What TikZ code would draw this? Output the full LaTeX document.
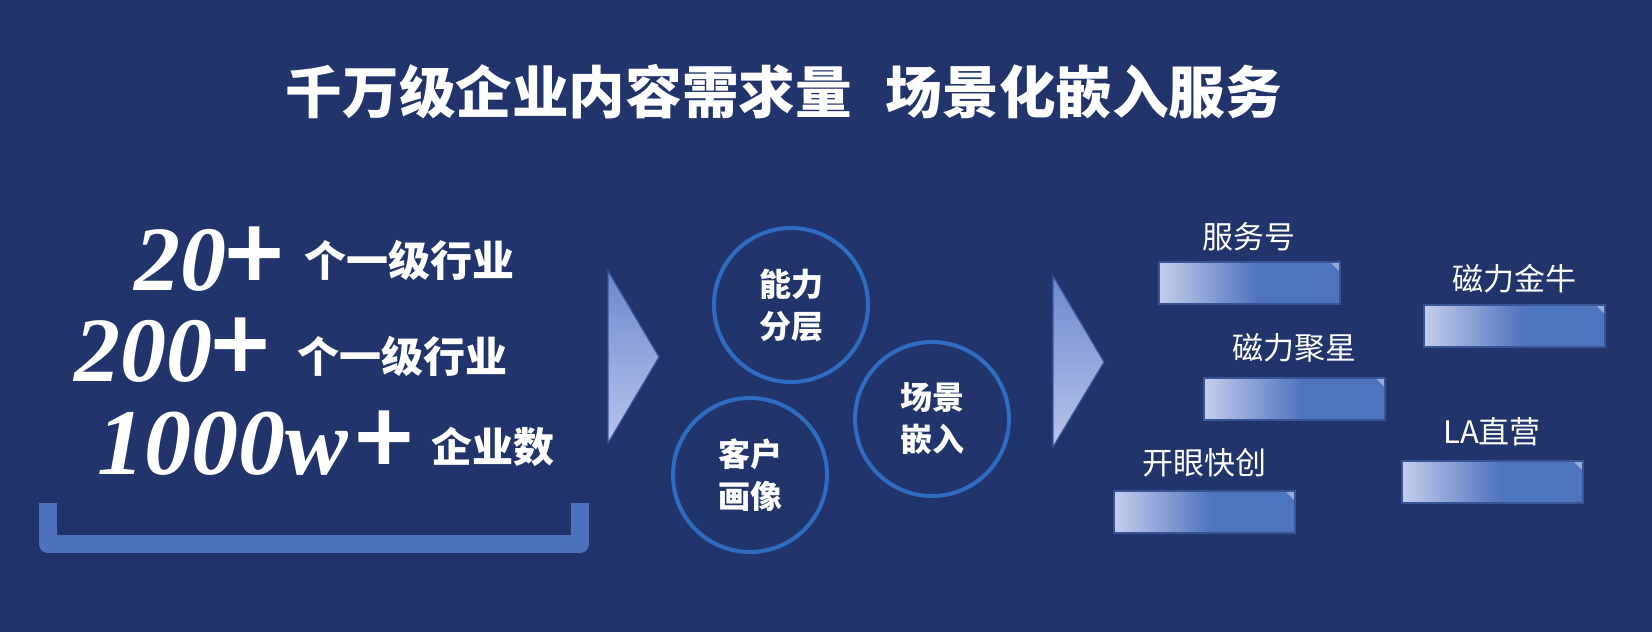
\documentclass[tikz,border=0pt]{standalone}
\usepackage{fontspec}
\setmainfont{Liberation Serif}
\newfontfamily\cjk{Noto Sans CJK SC}
\newfontfamily\plusfont{Noto Sans CJK SC}[FakeBold=3]
\definecolor{bg}{RGB}{33,53,108}
\definecolor{mblue}{RGB}{79,116,190}
\definecolor{pale}{RGB}{196,206,236}
\definecolor{ring}{RGB}{45,108,192}
\definecolor{brk}{RGB}{79,114,188}
\definecolor{boxedge}{RGB}{55,84,148}
\definecolor{triedge}{RGB}{60,88,156}
\definecolor{tritop}{RGB}{108,136,204}
\definecolor{tribot}{RGB}{184,198,236}
\pgfdeclarehorizontalshading{boxshade}{100bp}{color(0bp)=(pale); color(25bp)=(pale); color(52bp)=(mblue); color(75bp)=(mblue); color(100bp)=(mblue)}
\tikzset{
  title/.style={text=white, inner sep=0pt, font=\cjk\bfseries\fontsize{28.3}{30}\selectfont},
  num/.style={text=white, inner sep=0pt, anchor=base west, font=\bfseries\itshape\fontsize{46}{46}\selectfont},
  unit/.style={text=white, inner sep=0pt, anchor=west, font=\cjk\bfseries\fontsize{21}{22}\selectfont},
  circ/.style={circle, draw=ring, line width=2pt, minimum size=77pt, inner sep=0pt,
    text=white, align=center, font=\cjk\bfseries\fontsize{16}{21}\selectfont},
  bar/.style={rectangle, shading=boxshade, draw=boxedge, line width=1pt,
    minimum width=90.5pt, minimum height=21pt, inner sep=0pt,
    path picture={\fill[white, opacity=0.4] (path picture bounding box.north east) -- ++(-5pt,0pt) -- ++(5pt,-5pt) -- cycle;}},
  lbl/.style={text=white, inner sep=0pt, font=\cjk\fontsize{15.5}{17}\selectfont},
  tri/.style={draw=triedge, line width=0.6pt, top color=tritop, middle color=mblue, bottom color=tribot}
}
\newcommand{\plusglyph}{{\upshape\mdseries\plusfont\fontsize{50}{50}\selectfont +}}
\begin{document}
\begin{tikzpicture}[x=0.5pt, y=-0.5pt]
\useasboundingbox (0,0) rectangle (1652,632);
\fill[bg] (0,0) rectangle (1652,632);
% title
\node[title] (title) at (784,92) {千万级企业内容需求量\hspace{0.6em}场景化嵌入服务};
% left numbers
\node[num] (n1) at (134,290) {20\plusglyph};
\node[unit] (u1) at (304,260) {个一级行业};
\node[num] (n2) at (74,381) {200\plusglyph};
\node[unit] (u2) at (297,356) {个一级行业};
\node[num, font=\bfseries\itshape\fontsize{47}{47}\selectfont] (n3) at (97,474) {1000w\kern4pt\plusglyph};
\node[unit, font=\cjk\bfseries\fontsize{20.5}{22}\selectfont] (u3) at (431,447) {企业数};
% bracket
\draw[brk, line width=9pt, line join=round] (48,503) -- (48,544) -- (580,544) -- (580,503);
% arrows
\path[tri] (608,271) -- (659,357) -- (608,443) -- cycle;
\path[tri] (1053,276) -- (1104,362) -- (1053,447) -- cycle;
% circles
\node[circ] (c1) at (791,305) {能力\\分层};
\node[circ] (c2) at (932,419) {场景\\嵌入};
\node[circ] (c3) at (750,475) {客户\\画像};
% bars
\node[bar] (b1) at (1249.5,283) {};
\node[bar] (b2) at (1294.5,398.5) {};
\node[bar] (b3) at (1204,511.5) {};
\node[bar] (b4) at (1514.5,325.5) {};
\node[bar] (b5) at (1492,481.5) {};
\node[lbl] (l1) at (1249,237) {服务号};
\node[lbl] (l2) at (1294,347.5) {磁力聚星};
\node[lbl] (l3) at (1204,462.5) {开眼快创};
\node[lbl] (l4) at (1514,279) {磁力金牛};
\node[lbl] (l5) at (1492,432) {LA直营};
\end{tikzpicture}
\end{document}
